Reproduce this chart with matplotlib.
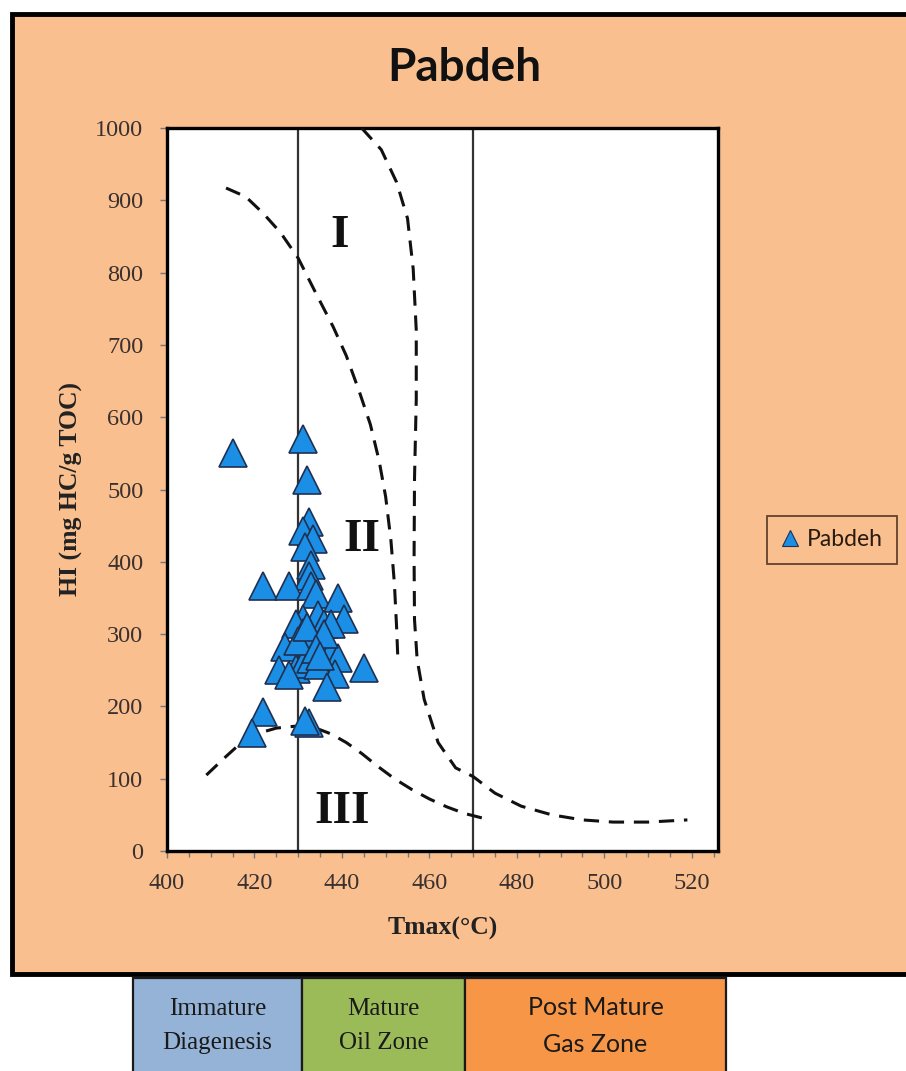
import matplotlib
matplotlib.use("Agg")
import matplotlib.pyplot as plt
from matplotlib.patches import Rectangle
from matplotlib.lines import Line2D
from matplotlib.ticker import MultipleLocator

# Pabdeh samples: Tmax (°C) and HI (mg HC/g TOC)
tmax = [415, 431, 432, 432.5, 431, 433.5, 431.5, 433, 432.5, 422,
        428, 433, 434, 439, 440.5, 434.5, 431, 429.5, 436, 437.5,
        435.5, 427, 431, 433, 437.5, 439, 425.5, 429.5, 431, 433,
        434.5, 428, 438.5, 445, 436.5, 422, 419.5, 432.5, 431.5, 430,
        432, 436, 434, 435]
hi = [550, 570, 513, 455, 442, 432, 420, 395, 380, 366,
      366, 366, 355, 350, 321, 327, 321, 314, 314, 314,
      294, 282, 301, 288, 275, 267, 250, 252, 259, 265,
      257, 243, 245, 253, 227, 192, 163, 177, 180, 290,
      310, 300, 280, 270]

# kerogen type boundary curves
type1_x = [444.5, 449, 452.5, 455, 456.3, 457, 457, 456.6, 456.5, 456.6,
           457.2, 458.8, 462, 466, 470, 475, 481, 488, 495, 502, 510, 519]
type1_y = [1000, 970, 925, 875, 805, 720, 625, 515, 405, 320,
           265, 210, 150, 115, 103, 80, 62, 50, 43, 40, 40, 43]
type2_x = [413.5, 418, 422, 426, 430, 434, 438, 441, 444, 446.5,
           448.5, 450, 451.2, 452, 452.5, 452.8]
type2_y = [917, 905, 882, 855, 820, 772, 725, 685, 635, 590,
           540, 490, 430, 370, 310, 265]
type3_x = [409, 413, 417, 421, 425, 430, 434, 437.5, 441, 444.5,
           448, 452, 456, 460, 464, 468, 472.5]
type3_y = [105, 128, 150, 163, 170, 173, 170, 162, 150, 135,
           118, 100, 85, 72, 61, 52, 45]

zone_lines = [430, 470]
type_labels = ["I", "II", "III"]
type_label_x = [439.5, 444.5, 440]
type_label_y = [850, 430, 54]

zone_names = ["Immature\nDiagenesis", "Mature\nOil Zone", "Post Mature\nGas Zone"]
zone_colors = ["#95b3d7", "#9bbb59", "#f79646"]

SERIF = "Liberation Serif"
SANS = "Lato"
W, H = 906, 1071

fig = plt.figure(figsize=(W / 100, H / 100), dpi=100, facecolor="white")

# orange chart panel
fig.patches.append(Rectangle((12 / W, (H - 974) / H), 1.0, (974 - 14) / H,
                             transform=fig.transFigure, facecolor="#f9bf8f",
                             edgecolor="black", linewidth=3.5, zorder=-5))

ax = fig.add_axes([167 / W, (H - 851) / H, (718 - 167) / W, (851 - 128) / H])
ax.set_zorder(2)
ax.set_facecolor("white")
ax.set_xlim(400, 526)
ax.set_ylim(0, 1000)

for xv in zone_lines:
    ax.axvline(xv, color="#333333", lw=1.6, zorder=2)

dash = dict(color="#111111", lw=2.2, linestyle=(0, (5, 3.2)), zorder=3)
ax.plot(type1_x, type1_y, **dash)
ax.plot(type2_x, type2_y, **dash)
ax.plot(type3_x, type3_y, **dash)

for lab, lx, ly in zip(type_labels, type_label_x, type_label_y):
    ax.text(lx, ly, lab, ha="center", va="center", fontsize=34,
            fontweight="bold", family=SERIF, color="#111111", zorder=4)

ax.plot(tmax, hi, linestyle="none", marker="^", ms=20, mfc="#1b8fe6",
        mec="#1f3050", mew=1.2, zorder=5)

ax.xaxis.set_major_locator(MultipleLocator(20))
ax.xaxis.set_minor_locator(MultipleLocator(5))
ax.yaxis.set_major_locator(MultipleLocator(100))
ax.tick_params(which="both", direction="out", color="#777777", width=1,
               labelsize=17.5, labelcolor="#3a3030")
ax.tick_params(which="major", length=5)
ax.tick_params(which="minor", length=4)
ax.tick_params(axis="x", which="major", pad=11)
ax.tick_params(axis="y", which="major", pad=12)
for lbl in ax.get_xticklabels() + ax.get_yticklabels():
    lbl.set_family(SERIF)
for sp in ax.spines.values():
    sp.set_linewidth(2.4)
    sp.set_color("black")

ax.set_xlabel("Tmax(°C)", family=SERIF, fontsize=18.5, fontweight="bold",
              labelpad=16, color="#222222")
ax.set_ylabel("HI (mg HC/g TOC)", family=SERIF, fontsize=18.5,
              fontweight="bold", labelpad=9, color="#222222")

fig.text(464 / W, 1 - 68 / H, "Pabdeh", ha="center", va="center",
         fontsize=33, fontweight="bold", family=SANS, color="#111111")

handle = Line2D([], [], linestyle="none", marker="^", ms=12, mfc="#1b8fe6",
                mec="#1f3050", mew=0.8)
leg = fig.legend([handle], ["Pabdeh"], loc="center",
                 bbox_to_anchor=(832 / W, 1 - 540 / H), frameon=True,
                 fancybox=False, edgecolor="#3a2318", facecolor="none",
                 handlelength=0.8, handletextpad=0.35, borderpad=0.6,
                 prop={"family": SANS, "size": 16.5})
leg.get_frame().set_linewidth(1.3)
for t in leg.get_texts():
    t.set_color("#2a1a10")

# maturity zone boxes below the chart
box_edges = [133, 302, 465, 726]
for i in range(3):
    x0, x1 = box_edges[i], box_edges[i + 1]
    fig.patches.append(Rectangle((x0 / W, -0.01), (x1 - x0) / W,
                                 (H - 978) / H + 0.01,
                                 transform=fig.transFigure,
                                 facecolor=zone_colors[i], edgecolor="#1a1a1a",
                                 linewidth=1.6, zorder=1))
    fam = SANS if i == 2 else SERIF
    fig.text((x0 + x1) / 2 / W, 1 - 1026 / H, zone_names[i], ha="center",
             va="center", fontsize=18, family=fam, color="#1a1a1a",
             linespacing=1.75)

fig.savefig("out.png", dpi=100, facecolor="white")
